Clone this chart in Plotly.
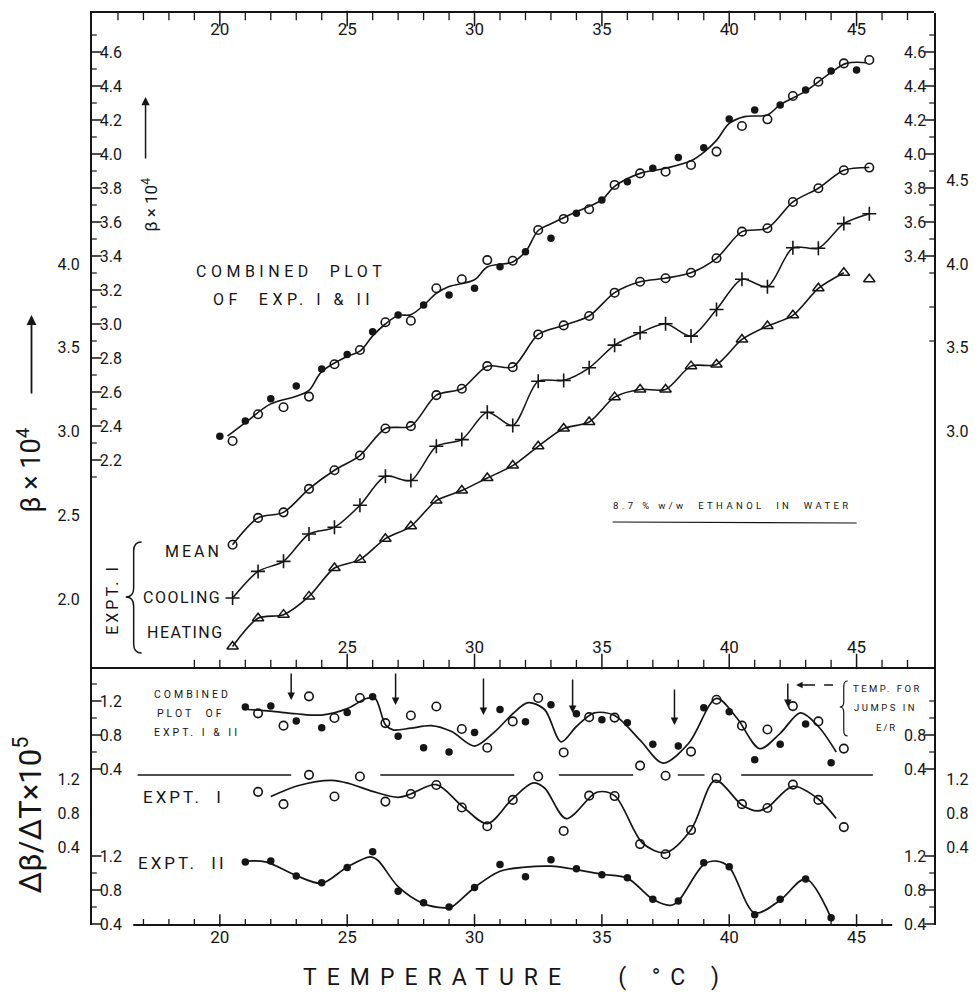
import plotly.graph_objects as go

# ---------------------------------------------------------------- data
# Top panel, combined plot of Expt I & II (beta x 10^4, inner scale)
comb_T_filled = [20, 21, 22, 23, 24, 25, 26, 27, 28, 29, 30, 31, 32, 33, 34, 35,
                 36, 37, 38, 39, 40, 41, 42, 43, 44, 45]
comb_beta_filled = [2.34, 2.43, 2.56, 2.635, 2.735, 2.82, 2.955, 3.053, 3.112, 3.171,
                    3.21, 3.337, 3.425, 3.504, 3.651, 3.729, 3.837, 3.916, 3.98, 4.037,
                    4.206, 4.259, 4.288, 4.376, 4.488, 4.494]
comb_T_open = [20.5, 21.5, 22.5, 23.5, 24.5, 25.5, 26.5, 27.5, 28.5, 29.5, 30.5, 31.5,
               32.5, 33.5, 34.5, 35.5, 36.5, 37.5, 38.5, 39.5, 40.5, 41.5, 42.5, 43.5,
               44.5, 45.5]
comb_beta_open = [2.312, 2.469, 2.51, 2.573, 2.763, 2.847, 3.01, 3.019, 3.21, 3.263,
                  3.376, 3.372, 3.553, 3.618, 3.675, 3.818, 3.886, 3.896, 3.935, 4.014,
                  4.165, 4.204, 4.341, 4.425, 4.533, 4.553]
comb_fit_T = [20.3, 21.0, 22.0, 23.0, 23.5, 24.0, 25.0, 25.5, 26.0, 26.5, 27.0, 27.5,
              28.0, 28.5, 29.0, 30.0, 30.5, 31.5, 32.0, 32.5, 33.0, 34.0, 35.0, 35.5,
              36.5, 37.5, 38.5, 39.0, 39.5, 40.0, 40.6, 41.5, 42.0, 43.0, 44.0, 44.6, 45.4]
comb_fit_beta = [2.34, 2.42, 2.53, 2.575, 2.61, 2.72, 2.81, 2.84, 2.93, 3.0, 3.05, 3.055,
                 3.11, 3.18, 3.22, 3.26, 3.335, 3.365, 3.425, 3.55, 3.59, 3.66, 3.73, 3.81,
                 3.886, 3.916, 3.96, 4.01, 4.08, 4.18, 4.22, 4.23, 4.29, 4.37, 4.48, 4.533,
                 4.537]

# Top panel, Expt I (outer scale)
exp1_T = [20.5, 21.5, 22.5, 23.5, 24.5, 25.5, 26.5, 27.5, 28.5, 29.5, 30.5, 31.5,
          32.5, 33.5, 34.5, 35.5, 36.5, 37.5, 38.5, 39.5, 40.5, 41.5, 42.5, 43.5,
          44.5, 45.5]
mean_beta = [2.326, 2.486, 2.519, 2.659, 2.77, 2.858, 3.019, 3.033, 3.218, 3.256, 3.391,
             3.385, 3.58, 3.634, 3.69, 3.829, 3.894, 3.915, 3.948, 4.034, 4.193, 4.213,
             4.37, 4.452, 4.559, 4.575]
cooling_beta = [2.008, 2.167, 2.227, 2.39, 2.43, 2.561, 2.734, 2.709, 2.913, 2.953,
                3.116, 3.037, 3.301, 3.306, 3.381, 3.516, 3.59, 3.644, 3.57, 3.729,
                3.909, 3.865, 4.097, 4.094, 4.241, 4.3]
heating_beta = [1.719, 1.888, 1.909, 2.018, 2.187, 2.237, 2.362, 2.436, 2.589, 2.649,
                2.724, 2.798, 2.913, 3.019, 3.058, 3.206, 3.252, 3.252, 3.391, 3.401,
                3.55, 3.63, 3.694, 3.855, 3.948, 3.909]

# Bottom panel, d(beta)/dT x 10^5
dT_II = [21, 22, 23, 24, 25, 26, 27, 28, 29, 30, 31, 32, 33, 34, 35, 36, 37, 38, 39,
         40, 41, 42, 43, 44]
dbdt_II = [1.13, 1.14, 0.965, 0.885, 1.065, 1.25, 0.785, 0.65, 0.6, 0.83, 1.1, 0.955,
           1.155, 1.05, 0.98, 0.945, 0.69, 0.67, 1.12, 1.075, 0.51, 0.69, 0.93, 0.475]
dT_I = [21.5, 22.5, 23.5, 24.5, 25.5, 26.5, 27.5, 28.5, 29.5, 30.5, 31.5, 32.5, 33.5,
        34.5, 35.5, 36.5, 37.5, 38.5, 39.5, 40.5, 41.5, 42.5, 43.5, 44.5]
dbdt_I = [1.055, 0.91, 1.255, 1.0, 1.235, 0.94, 1.03, 1.135, 0.87, 0.65, 0.96, 1.235,
          0.595, 1.01, 1.005, 0.44, 0.32, 0.605, 1.215, 0.91, 0.865, 1.14, 0.96, 0.64]

dcomb_fit_T = [21.1, 22.0, 23.0, 24.0, 25.0, 25.75, 26.1, 26.5, 26.8, 27.5, 28.3, 29.1,
               30.0, 30.8, 31.5, 32.1, 32.75, 33.4, 34.0, 34.7, 35.5, 36.5, 37.4, 38.4,
               39.5, 40.3, 41.2, 42.0, 42.8, 43.5, 44.2]
dcomb_fit = [1.10, 1.08, 1.05, 1.035, 1.11, 1.23, 1.23, 0.92, 0.86, 0.88, 0.91, 0.84,
             0.67, 0.84, 1.05, 1.18, 1.10, 0.72, 0.90, 1.06, 1.03, 0.74, 0.47, 0.70,
             1.23, 1.00, 0.64, 0.82, 1.06, 0.90, 0.60]
dI_fit_T = [22.0, 23.1, 24.4, 25.1, 26.0, 27.0, 27.5, 28.5, 29.5, 30.5, 31.45, 32.3,
            32.75, 33.6, 34.8, 35.5, 36.6, 37.5, 38.5, 39.45, 40.5, 41.1, 41.5, 42.5,
            43.5, 44.2]
dI_fit = [1.00, 1.13, 1.19, 1.15, 1.06, 0.99, 1.03, 1.14, 0.89, 0.68, 0.96, 1.16, 1.10,
          0.74, 1.05, 1.01, 0.45, 0.34, 0.61, 1.19, 0.90, 0.83, 0.87, 1.12, 0.97, 0.74]
dII_fit_T = [21.0, 21.8, 23.0, 24.0, 25.0, 25.9, 26.2, 27.0, 28.0, 28.8, 29.1, 30.0,
             31.0, 32.0, 33.0, 34.0, 35.0, 36.0, 37.0, 37.7, 38.0, 39.0, 39.5, 40.0,
             41.0, 42.0, 43.0, 44.0]
dII_fit = [1.14, 1.13, 0.97, 0.88, 1.07, 1.19, 1.15, 0.84, 0.64, 0.59, 0.60, 0.83, 1.02,
           1.07, 1.08, 1.04, 0.985, 0.94, 0.69, 0.62, 0.67, 1.10, 1.14, 1.07, 0.53, 0.68,
           0.93, 0.47]

# temperatures of jumps in E/R (arrows)
jump_T = [22.8, 26.9, 30.35, 33.85, 37.85, 42.3]

x_major = [20, 25, 30, 35, 40, 45]

# ---------------------------------------------------------------- geometry
W, H = 980, 995
ML, MR, MT, MB = 92, 39, 13, 70
PW, PH = W - ML - MR, H - MT - MB
FONT = "Roboto, 'DejaVu Sans', sans-serif"
INK = "#151515"
CLEAR = "rgba(0,0,0,0)"
SPLIT = 667  # pixel row of the panel divider


def px(x):
    return (x - ML) / PW


def py(y):
    return (H - MB - y) / PH


def yrange(val, at, ppu, top, bot):
    return [val - (bot - at) / ppu, val + (at - top) / ppu]


TOP_DOM = [py(SPLIT), 1.0]
BOT_DOM = [0.0, py(SPLIT)]
XR = [14.98, 48.04]
PPX = PW / (XR[1] - XR[0])          # pixels per degree

R_COMB = yrange(4.6, 52, 170.0, MT, SPLIT)
R_E1 = yrange(4.0, 264, 167.7, MT, SPLIT)
R_DC = yrange(1.2, 701, 85.0, SPLIT, H - MB)
R_DI = yrange(1.2, 779.5, 85.0, SPLIT, H - MB)
R_DII = yrange(1.2, 856, 85.0, SPLIT, H - MB)


def tenths(a, b, skip):
    out = []
    k = int(round(a * 10))
    while k <= int(round(b * 10)):
        if k % skip != 0:
            out.append(k / 10)
        k += 1
    return out


fig = go.Figure()
BLACK = INK
OPEN = dict(symbol="circle-open", size=8.5, color=BLACK, line=dict(width=1.6, color=BLACK))
FILLED = dict(symbol="circle", size=7.5, color=BLACK)


def tick_trace(xs, ys, xa, ya, symbol, size, width):
    # tick marks placed through the axes' own scales
    fig.add_trace(go.Scatter(x=xs, y=ys, xaxis=xa, yaxis=ya, mode="markers",
                             cliponaxis=False, hoverinfo="skip", showlegend=False,
                             marker=dict(symbol=symbol, size=size, color=INK,
                                         line=dict(color=INK, width=width))))


def x_ticks(vals, ya, edge_val, ppu, length, direction, width=1.5):
    ys = [edge_val + direction * (length / 2.0) / ppu for _ in vals]
    tick_trace(vals, ys, "x", ya, "line-ns", length, width)


def yax(name, rng, side, ticks, vals, minor_vals, domain, showline=False):
    base = XR[0] if side == "left" else XR[1]
    direction = (1 if side == "left" else -1) * (1 if ticks == "inside" else -1)
    tick_trace([base + direction * 4.0 / PPX for _ in vals], vals, "x", name, "line-ew", 8, 1.5)
    tick_trace([base + direction * 2.0 / PPX for _ in minor_vals], minor_vals, "x", name,
               "line-ew", 4, 1.2)
    return dict(range=rng, side=side, anchor="x", domain=domain,
                ticks=ticks, ticklen=8, tickwidth=1.5, tickcolor=CLEAR,
                tickmode="array", tickvals=vals, ticktext=[f"{v:.1f}" for v in vals],
                ticklabelposition="inside" if ticks == "inside" else "outside",
                ticklabeloverflow="allow",
                tickfont=dict(family=FONT, size=16, color=INK),
                showgrid=False, zeroline=False, showline=showline, linecolor=INK,
                linewidth=2)


# ---- top panel traces (combined plot on y2 / y4, same scale)
fig.add_trace(go.Scatter(x=comb_fit_T, y=comb_fit_beta, mode="lines", xaxis="x2", yaxis="y2",
                         line=dict(color=BLACK, width=1.6, shape="spline", smoothing=1.0),
                         hoverinfo="skip", showlegend=False))
fig.add_trace(go.Scatter(x=comb_T_filled, y=comb_beta_filled, mode="markers", xaxis="x", yaxis="y2",
                         marker=FILLED, showlegend=False))
fig.add_trace(go.Scatter(x=comb_T_open, y=comb_beta_open, mode="markers", xaxis="x", yaxis="y4",
                         marker=OPEN, showlegend=False))

# Expt I on y3 (left outer) / y5 (right outer, same scale)
fig.add_trace(go.Scatter(x=exp1_T, y=mean_beta, mode="lines+markers", xaxis="x", yaxis="y3",
                         line=dict(color=BLACK, width=1.6, shape="spline", smoothing=0.8),
                         marker=OPEN, showlegend=False))
fig.add_trace(go.Scatter(x=exp1_T, y=cooling_beta, mode="lines+markers", xaxis="x", yaxis="y5",
                         line=dict(color=BLACK, width=1.5, shape="spline", smoothing=0.8),
                         marker=dict(symbol="cross-thin", size=10, color=BLACK,
                                     line=dict(width=1.6, color=BLACK)), showlegend=False))
fig.add_trace(go.Scatter(x=exp1_T[:-1], y=heating_beta[:-1], mode="lines", xaxis="x3", yaxis="y3",
                         line=dict(color=BLACK, width=1.6, shape="spline", smoothing=0.8),
                         hoverinfo="skip", showlegend=False))
fig.add_trace(go.Scatter(x=exp1_T, y=heating_beta, mode="markers", xaxis="x", yaxis="y3",
                         marker=dict(symbol="triangle-up-open", size=10, color=BLACK,
                                     line=dict(width=1.5, color=BLACK)), showlegend=False))

# ---- bottom panel traces
for fit_T, fit_v, ax in [(dcomb_fit_T, dcomb_fit, "y6"), (dI_fit_T, dI_fit, "y7"),
                         (dII_fit_T, dII_fit, "y8")]:
    fig.add_trace(go.Scatter(x=fit_T, y=fit_v, mode="lines", xaxis="x", yaxis=ax,
                             line=dict(color=BLACK, width=1.7, shape="spline", smoothing=0.9),
                             hoverinfo="skip", showlegend=False))
for ax in ["y6", "y"]:
    fig.add_trace(go.Scatter(x=dT_II, y=dbdt_II, mode="markers", xaxis="x", yaxis=ax,
                             marker=FILLED, showlegend=False))
for ax in ["y9", "y10"]:
    fig.add_trace(go.Scatter(x=dT_I, y=dbdt_I, mode="markers", xaxis="x", yaxis=ax,
                             marker=OPEN, showlegend=False))

xcommon = dict(range=XR, domain=[0, 1], showgrid=False, zeroline=False, tickmode="array",
               tickcolor=CLEAR, tickwidth=1.5, ticklabeloverflow="allow",
               tickfont=dict(family=FONT, size=17, color=INK), linecolor=INK, linewidth=2)

# x tick marks: bottom axis, top frame, panel divider
x_ticks(x_major, "y", R_DII[0], 85.0, 9, 1)
x_ticks([t for t in range(17, 47) if t % 5 != 0], "y", R_DII[0], 85.0, 5, 1, 1.3)
x_ticks(x_major, "y2", R_COMB[1], 170.0, 11, -1)
x_ticks([t for t in range(16, 48) if t % 5 != 0], "y2", R_COMB[1], 170.0, 6, -1, 1.3)
x_ticks(x_major[1:], "y2", R_COMB[0], 170.0, 11, 1)
x_ticks([t for t in range(19, 48) if t % 5 != 0 or t == 20], "y2", R_COMB[0], 170.0, 6, 1, 1.3)

layout_axes = dict(
    xaxis=dict(xcommon, anchor="y", side="bottom", ticks="inside", ticklen=9,
               tickvals=x_major, ticktext=[str(v) for v in x_major], showline=False),
    xaxis2=dict(xcommon, anchor="y2", side="top",
                ticks="inside", ticklen=11, ticklabelposition="inside",
                tickvals=x_major, ticktext=[str(v) for v in x_major], showline=True),
    xaxis3=dict(xcommon, anchor="y3", side="bottom",
                ticks="inside", ticklen=11, ticklabelposition="inside",
                tickvals=x_major[1:], ticktext=[str(v) for v in x_major[1:]], showline=True),
    # bottom panel
    yaxis=yax("y", R_DII, "left", "inside", [0.4, 0.8, 1.2], [0.6, 1.0], BOT_DOM, showline=True),
    yaxis6=yax("y6", R_DC, "left", "inside", [0.4, 0.8, 1.2], [0.6, 1.0, 1.4], BOT_DOM),
    yaxis7=yax("y7", R_DI, "left", "outside", [0.4, 0.8, 1.2], [0.6, 1.0], BOT_DOM),
    yaxis8=yax("y8", R_DII, "right", "inside", [0.4, 0.8, 1.2], [0.6, 1.0], BOT_DOM, showline=True),
    yaxis9=yax("y9", R_DC, "right", "inside", [0.4, 0.8], [0.6, 1.0, 1.2], BOT_DOM),
    yaxis10=yax("y10", R_DI, "right", "outside", [0.4, 0.8, 1.2], [0.6, 1.0], BOT_DOM),
    # top panel
    yaxis2=yax("y2", R_COMB, "left", "inside", [round(2.2 + 0.2 * i, 1) for i in range(13)],
               tenths(2.1, 4.7, 2), TOP_DOM, showline=True),
    yaxis3=yax("y3", R_E1, "left", "outside", [2.0, 2.5, 3.0, 3.5, 4.0], tenths(1.7, 4.2, 5),
               TOP_DOM),
    yaxis4=yax("y4", R_COMB, "right", "inside", [round(3.4 + 0.2 * i, 1) for i in range(7)],
               tenths(2.9, 4.7, 2), TOP_DOM, showline=True),
    yaxis5=yax("y5", R_E1, "right", "outside", [3.0, 3.5, 4.0, 4.5], tenths(2.8, 4.7, 5),
               TOP_DOM),
)

fig.update_layout(
    width=W, height=H,
    margin=dict(l=ML, r=MR, t=MT, b=MB, pad=0),
    paper_bgcolor="white", plot_bgcolor="rgba(0,0,0,0)",
    showlegend=False,
    **layout_axes,
)


def spaced(s, sp):
    return f'<span style="letter-spacing:{sp}px">{s}</span>' if sp else s


annotations = []


def txt(x, y, s, size, xanchor="center", angle=0, sp=0, yanchor="middle"):
    annotations.append(dict(x=px(x), y=py(y), xref="paper", yref="paper",
                            text=spaced(s, sp), showarrow=False, textangle=angle,
                            xanchor=xanchor, yanchor=yanchor,
                            font=dict(family=FONT, size=size, color=INK)))


# top panel labels
txt(293, 272, "COMBINED&nbsp;&nbsp;PLOT", 16, sp=4.5)
txt(295, 299, "OF&nbsp;&nbsp;EXP. I &amp; II", 16, sp=4.5)
txt(738, 505, "8.7 % w/w&nbsp;&nbsp;ETHANOL&nbsp;&nbsp;IN&nbsp;&nbsp;WATER", 9.5, sp=3.4)
txt(225, 552, "MEAN", 16, xanchor="right", sp=3)
txt(224, 597, "COOLING", 16, xanchor="right", sp=1.5)
txt(227, 632, "HEATING", 16, xanchor="right", sp=1.5)
txt(112, 599, "EXPT. I", 16, angle=-90, sp=3)

# axis titles
txt(28, 470, "β × 10<sup>4</sup>", 27, angle=-90)
txt(150, 205, "β × 10<sup>4</sup>", 17, angle=-90)
txt(27, 815, "Δβ/ΔT×10<sup>5</sup>", 31, angle=-90)
txt(520, 977, "TEMPERATURE&nbsp;&nbsp;&nbsp;(&nbsp;°C&nbsp;)", 23, sp=10)

# bottom panel labels
txt(153, 694, "COMBINED", 10.5, xanchor="left", sp=3)
txt(156, 713, "PLOT&nbsp;&nbsp;OF", 10.5, xanchor="left", sp=3)
txt(153, 732, "EXPT. I &amp; II", 10.5, xanchor="left", sp=3)
txt(141, 797, "EXPT.&nbsp;&nbsp;I", 17, xanchor="left", sp=3)
txt(136, 863, "EXPT.&nbsp;&nbsp;II", 17, xanchor="left", sp=3)
txt(857, 688, "TEMP.&nbsp;FOR", 9.5, xanchor="left", sp=2.5)
txt(858, 707, "JUMPS&nbsp;IN", 9.5, xanchor="left", sp=2.5)
txt(880, 727, "E/R", 9.5, xanchor="left", sp=2)

# title arrows
for (ax_x, tip_y, length, w) in [(31, 315, 80, 1.8), (146, 97, 63, 1.5)]:
    annotations.append(dict(x=px(ax_x), y=py(tip_y), xref="paper", yref="paper", text="",
                            showarrow=True, ax=0, ay=length, arrowhead=2, arrowsize=1.1,
                            arrowwidth=w, arrowcolor=INK))
# arrow for "temp. for jumps"
annotations.append(dict(x=px(802), y=py(685), xref="paper", yref="paper", text="",
                        showarrow=True, ax=12, ay=0, arrowhead=2, arrowsize=1.0,
                        arrowwidth=1.3, arrowcolor=INK))

# jump arrows (tips in pixel rows, converted to the combined axis)
tip_rows = [700, 705, 715, 713, 725, 707]
tail_len = [28, 33, 38, 35, 37, 25]
for t, row, ln in zip(jump_T, tip_rows, tail_len):
    annotations.append(dict(x=t, y=1.2 - (row - 701) / 85.0, xref="x", yref="y6", text="",
                            showarrow=True, ax=0, ay=-ln, arrowhead=2, arrowsize=1.0,
                            arrowwidth=1.5, arrowcolor=INK))

fig.update_layout(annotations=annotations)

shapes = []
# bottom x-axis line
shapes.append(dict(type="line", xref="x", yref="paper", x0=16.6, x1=46.4, y0=0, y1=0,
                   line=dict(color=INK, width=2)))
# separator between combined and Expt I (bottom panel)
for a, b in [(16.77, 22.8), (26.3, 31.56), (33.31, 36.23), (37.98, 39.03), (40.47, 45.64)]:
    shapes.append(dict(type="line", xref="x", yref="paper", x0=a, x1=b, y0=py(775), y1=py(775),
                       line=dict(color=INK, width=1.4)))
# underline of ethanol caption
shapes.append(dict(type="line", xref="paper", yref="paper", x0=px(617), x1=px(863),
                   y0=py(522), y1=py(523), line=dict(color=INK, width=1.2)))
# dashed arrow shaft
shapes.append(dict(type="line", xref="paper", yref="paper", x0=px(812), x1=px(847),
                   y0=py(685), y1=py(685), line=dict(color=INK, width=1.3, dash="dash")))


def brace(xr, xt, y0, y1, ym, r):
    xm = (xr + xt) / 2.0
    pts = [("M", xr, y0), ("Q", xm, y0, xm, y0 + r), ("L", xm, ym - r),
           ("Q", xm, ym, xt, ym), ("Q", xm, ym, xm, ym + r), ("L", xm, y1 - r),
           ("Q", xm, y1, xr, y1)]
    s = ""
    for p in pts:
        coords = p[1:]
        pairs = [f"{px(coords[i]):.5f},{py(coords[i + 1]):.5f}" for i in range(0, len(coords), 2)]
        s += p[0] + " " + " ".join(pairs) + " "
    return s.strip()


shapes.append(dict(type="path", xref="paper", yref="paper", path=brace(142, 126, 542, 653, 597, 9),
                   line=dict(color=INK, width=1.5)))
shapes.append(dict(type="path", xref="paper", yref="paper", path=brace(854, 846, 681, 736, 707, 5),
                   line=dict(color=INK, width=1.2)))
fig.update_layout(shapes=shapes)

fig.write_html("out.html", config=dict(displayModeBar=False),
               post_script="document.body.style.margin='0';document.body.style.overflow='hidden';")
